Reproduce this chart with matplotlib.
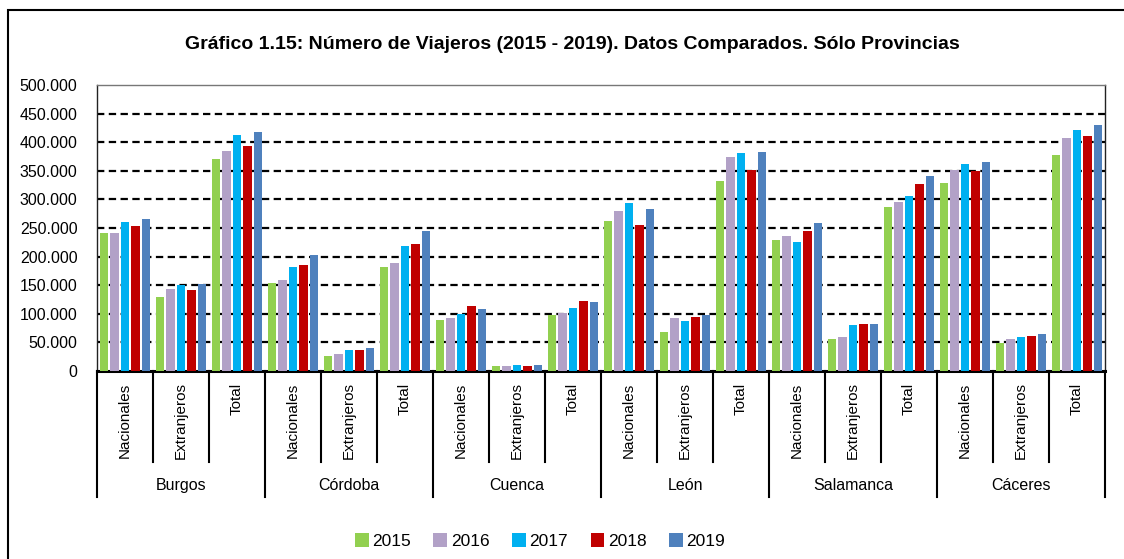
import matplotlib.pyplot as plt
from matplotlib.patches import Rectangle
import matplotlib.transforms as mtransforms

plt.rcParams['font.family'] = ['Liberation Sans', 'DejaVu Sans']

provincias = ['Burgos', 'Córdoba', 'Cuenca', 'León', 'Salamanca', 'Cáceres']
tipos = ['Nacionales', 'Extranjeros', 'Total']
years = ['2015', '2016', '2017', '2018', '2019']
colors = ['#92D050', '#B2A1C7', '#00B0F0', '#C00000', '#4F81BD']

# values per category (province x tipo), one list per year
v2015 = [240700, 130000, 370600, 153000, 26800, 181000, 89000, 8200, 98000,
         262000, 68700, 331600, 229500, 56500, 286700, 328000, 49000, 378000]
v2016 = [240500, 144000, 384600, 159700, 29700, 189000, 92700, 8000, 101400,
         280000, 93000, 373600, 236000, 58900, 296000, 350800, 56500, 406800]
v2017 = [261000, 150000, 412600, 182000, 36000, 218500, 100000, 10500, 110000,
         293700, 87400, 381000, 225500, 79800, 306000, 362400, 59400, 421800]
v2018 = [253500, 141600, 393000, 185000, 36000, 221400, 113600, 9300, 122400,
         255000, 95000, 350800, 244000, 81600, 326300, 349000, 61700, 410800]
v2019 = [265700, 152600, 418000, 203000, 40800, 244800, 108400, 11000, 120000,
         283000, 98000, 382000, 258000, 82000, 340300, 364800, 64700, 430000]
series = [v2015, v2016, v2017, v2018, v2019]

fig = plt.figure(figsize=(11.24, 5.59), dpi=100)
ax = fig.add_axes([0.0863, 0.3363, 0.8968, 0.5117])

n = len(v2015)
pitch = 0.186
for j, vals in enumerate(series):
    xs = [i + (j - 2) * pitch for i in range(n)]
    ax.bar(xs, vals, width=0.148, color=colors[j], label=years[j], zorder=3)

ax.set_xlim(-0.5, n - 0.5)
ax.set_ylim(0, 500000)
ticks = list(range(0, 500001, 50000))
ax.set_yticks(ticks)
ax.set_yticklabels([('{:,}'.format(t)).replace(',', '.') for t in ticks], fontsize=11.5)
ax.tick_params(axis='y', length=0, pad=14)
ax.set_xticks([])
for t in ticks[1:-1]:
    ax.axhline(t, color='black', lw=1.6, ls=(0, (3.3, 2.0)), zorder=1)

for s in ['top', 'right', 'left']:
    ax.spines[s].set_linewidth(1.0)
    ax.spines[s].set_color('#222222')
ax.spines['top'].set_color('#777777')
ax.spines['bottom'].set_linewidth(2.2)

# multi-level category axis
trans = mtransforms.blended_transform_factory(ax.transData, ax.transAxes)
for k in range(n + 1):
    x = k - 0.5
    y_end = -0.4406 if k % 3 == 0 else -0.318
    ax.plot([x, x], [0, y_end], color='black', lw=1.5, transform=trans, clip_on=False)
for i in range(n):
    ax.text(i, -0.04, tipos[i % 3], rotation=90, ha='center', va='top',
            fontsize=11, transform=trans)
for g, p in enumerate(provincias):
    ax.text(g * 3 + 1, -0.3986, p, ha='center', va='center', fontsize=11.5, transform=trans)

fig.text(0.509, 0.921, 'Gráfico 1.15: Número de Viajeros (2015 - 2019). Datos Comparados. Sólo Provincias',
         ha='center', va='center', fontsize=14, fontweight='bold')

fig.legend(loc='center', bbox_to_anchor=(0.4804, 0.032), ncol=5, frameon=False,
           fontsize=12.5, handlelength=0.8, handleheight=0.8, handletextpad=0.2,
           columnspacing=1.3)

# outer frame (only left and top edges fall inside the image)
fig.patches.append(Rectangle((8 / 1124, -0.05), 1.2, (559 - 10) / 559 + 0.05,
                             transform=fig.transFigure, fill=False,
                             edgecolor='black', lw=1.5))

fig.savefig('out.png', dpi=100)
